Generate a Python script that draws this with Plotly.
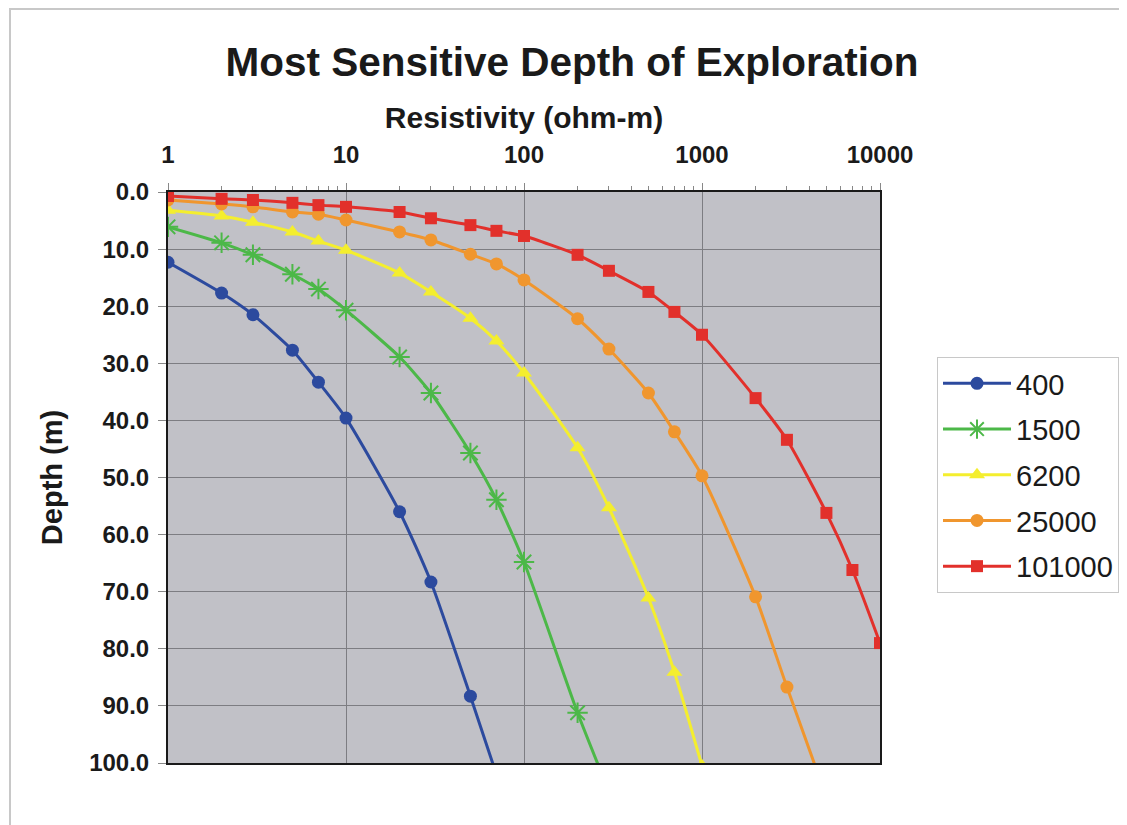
import plotly.graph_objects as go

# Resistivity values (ohm-m)
res_400 = [1, 2, 3, 5, 7, 10, 20, 30, 50, 70]
depth_400 = [12.3, 17.7, 21.5, 27.7, 33.3, 39.6, 56.0, 68.3, 88.3, 102.0]

res_1500 = [1, 2, 3, 5, 7, 10, 20, 30, 50, 70, 100, 200, 300]
depth_1500 = [6.1, 8.9, 11.0, 14.4, 17.0, 20.7, 28.9, 35.2, 45.7, 53.9, 64.8, 91.2, 105.0]

res_6200 = [1, 2, 3, 5, 7, 10, 20, 30, 50, 70, 100, 200, 300, 500, 700, 1000]
depth_6200 = [3.2, 4.2, 5.3, 7.0, 8.6, 10.2, 14.2, 17.5, 22.1, 26.1, 31.7, 44.8, 55.3, 71.1, 84.1, 100.5]

res_25000 = [1, 2, 3, 5, 7, 10, 20, 30, 50, 70, 100, 200, 300, 500, 700, 1000, 2000, 3000, 5000]
depth_25000 = [1.4, 2.1, 2.6, 3.5, 3.9, 4.9, 7.0, 8.4, 10.9, 12.6, 15.4, 22.2, 27.5, 35.2, 42.0, 49.7, 70.9, 86.7, 106.0]

res_101000 = [1, 2, 3, 5, 7, 10, 20, 30, 50, 70, 100, 200, 300, 500, 700, 1000, 2000, 3000, 5000, 7000, 10000]
depth_101000 = [0.7, 1.2, 1.4, 1.9, 2.3, 2.6, 3.5, 4.6, 5.8, 6.8, 7.7, 11.0, 13.8, 17.5, 21.0, 25.0, 36.1, 43.4, 56.2, 66.2, 79.0]

series_names = ["400", "1500", "6200", "25000", "101000"]
colors = ["#2c4a9e", "#4cb848", "#f4ee2e", "#f0962e", "#e2302b"]
symbols = ["circle", "asterisk-open", "triangle-up", "circle", "square"]
sizes = [13, 17, 14, 13, 12]

x_tickvals = [1, 10, 100, 1000, 10000]
x_ticktext = ["1", "10", "100", "1000", "10000"]

data = [(res_400, depth_400), (res_1500, depth_1500), (res_6200, depth_6200),
        (res_25000, depth_25000), (res_101000, depth_101000)]

FONT = "Liberation Sans, Arial, sans-serif"

# page body has an 8px offset; plot area target: x 168..880, y 192..763
L, T, PW, PH = 160, 184, 712, 571

fig = go.Figure()
for (xs, ys), name, c, sym, sz in zip(data, series_names, colors, symbols, sizes):
    marker = dict(color=c, symbol=sym, size=sz)
    if sym == "asterisk-open":
        marker["line"] = dict(color=c, width=2)
    fig.add_trace(go.Scatter(
        x=xs, y=ys, name=name, mode="lines+markers",
        line=dict(color=c, width=3, shape="spline", smoothing=0.6),
        marker=marker, legendgroup=name,
    ))

fig.update_layout(
    width=1127, height=825,
    margin=dict(l=L, r=1127 - L - PW, t=T, b=825 - T - PH),
    paper_bgcolor="white",
    plot_bgcolor="#c1c1c7",
    font=dict(family=FONT, color="#1a1a1a"),
    title=dict(text="<b>Most Sensitive Depth of Exploration</b>",
               x=564 / 1127, xref="container", xanchor="center",
               y=1 - 54 / 825, yref="container", yanchor="middle",
               font=dict(size=40.5, color="#1a1a1a", family=FONT)),
    showlegend=True,
    legend=dict(x=(937 - 168) / PW, xanchor="left",
                y=(763 - 357) / PH, yanchor="top",
                bordercolor="#c8c8c8", borderwidth=1, bgcolor="white",
                font=dict(size=29, family=FONT, color="#1a1a1a"),
                traceorder="grouped", tracegroupgap=5, itemwidth=68),
)

fig.update_xaxes(
    type="log", side="top", range=[0, 4],
    tickvals=x_tickvals, ticktext=x_ticktext,
    tickfont=dict(size=24, family=FONT, weight="bold", color="#1a1a1a"),
    ticks="outside", ticklen=7, tickcolor="#888888", ticklabelstandoff=10,
    minor=dict(ticks="outside", ticklen=4, tickcolor="#888888", showgrid=False,
               tickvals=[m * 10 ** e for e in range(4) for m in range(2, 10)]),
    showgrid=True, gridcolor="#7d7d82", gridwidth=1,
    showline=True, linecolor="#1a1a1a", linewidth=2, mirror=True,
    title=dict(text="<b>Resistivity (ohm-m)</b>", standoff=4,
               font=dict(size=30, family=FONT, color="#1a1a1a")),
    zeroline=False,
)
fig.update_yaxes(
    range=[100, 0], dtick=10, tick0=0, tickformat=".1f",
    tickfont=dict(size=24, family=FONT, weight="bold", color="#1a1a1a"),
    ticks="outside", ticklen=8, tickcolor="#888888", ticklabelstandoff=4,
    showgrid=True, gridcolor="#7d7d82", gridwidth=1,
    showline=True, linecolor="#1a1a1a", linewidth=2, mirror=True,
    title=dict(text="<b>Depth (m)</b>", standoff=18,
               font=dict(size=29, family=FONT, color="#1a1a1a")),
    zeroline=False,
)

# Outer chart border
fig.add_shape(type="rect", xref="paper", yref="paper",
              x0=(10 - 168) / PW, x1=1.6, y0=-0.3, y1=(763 - 9) / PH,
              line=dict(color="#c8c8c8", width=2), layer="below")

fig.write_html("out.html")
